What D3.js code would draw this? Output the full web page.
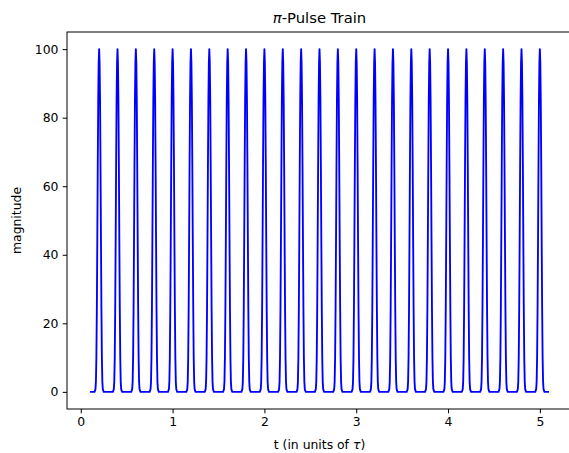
<!DOCTYPE html>
<html>
<head>
<meta charset="utf-8">
<script src="https://cdn.jsdelivr.net/npm/d3@7"></script>
<style>
  body { margin: 0; background: #fff; }
  svg { display: block; font-family: "DejaVu Sans", sans-serif; }
  .tick text { font-size: 12.4px; fill: #000; }
</style>
</head>
<body>
<script>
  // pulse train: one pulse every 0.2 tau, flat zero between them
  const tStart = 0.1;
  const tEnd = 5.1;
  const pulseCenters = [0.2, 0.4, 0.6, 0.8, 1.0, 1.2, 1.4, 1.6, 1.8, 2.0,
    2.2, 2.4, 2.6, 2.8, 3.0, 3.2, 3.4, 3.6, 3.8, 4.0,
    4.2, 4.4, 4.6, 4.8, 5.0];
  // shape of one pulse (offset from centre, magnitude)
  const pulseOffsets = [-0.05, -0.04, -0.035, -0.03, -0.025, -0.02, -0.015, -0.01, -0.005,
    0, 0.005, 0.01, 0.015, 0.02, 0.025, 0.03, 0.035, 0.04, 0.05];
  const pulseShape = [0, 0.8, 3, 10, 24, 44, 66, 85, 96,
    100, 96, 85, 66, 44, 24, 10, 3, 0.8, 0];
  const xTicks = [0, 1, 2, 3, 4, 5];
  const yTicks = [0, 20, 40, 60, 80, 100];

  const width = 569;
  const height = 453;
  const margin = { top: 32, right: -3, bottom: 44, left: 67 };

  const points = [[tStart, 0]];
  pulseCenters.forEach((c) => {
    pulseOffsets.forEach((o, i) => points.push([c + o, pulseShape[i]]));
  });
  points.push([tEnd, 0]);

  const svg = d3.select('body')
    .append('svg')
    .attr('width', width)
    .attr('height', height);

  const x = d3.scaleLinear()
    .domain([-0.15, 5.35])
    .range([margin.left, width - margin.right]);

  const y = d3.scaleLinear()
    .domain([-5, 105])
    .range([height - margin.bottom, margin.top]);

  const line = d3.line()
    .x((d) => x(d[0]))
    .y((d) => y(d[1]));

  svg.append('path')
    .datum(points)
    .attr('fill', 'none')
    .attr('stroke', '#0000ff')
    .attr('stroke-width', 1.85)
    .attr('stroke-linejoin', 'round')
    .attr('d', line);

  // axes frame
  svg.append('rect')
    .attr('x', margin.left)
    .attr('y', margin.top)
    .attr('width', width - margin.right - margin.left)
    .attr('height', height - margin.bottom - margin.top)
    .attr('fill', 'none')
    .attr('stroke', '#000')
    .attr('stroke-width', 1);

  const xAxis = svg.append('g')
    .attr('transform', `translate(0,${height - margin.bottom})`)
    .call(d3.axisBottom(x).tickValues(xTicks).tickFormat(d3.format('d'))
      .tickSize(4.3).tickPadding(4.3));

  const yAxis = svg.append('g')
    .attr('transform', `translate(${margin.left},0)`)
    .call(d3.axisLeft(y).tickValues(yTicks).tickFormat(d3.format('d'))
      .tickSize(4.3).tickPadding(4.3));

  [xAxis, yAxis].forEach((g) => {
    g.select('.domain').remove();
    g.selectAll('.tick line').attr('stroke', '#000').attr('stroke-width', 1);
    g.selectAll('.tick text').attr('font-family', 'DejaVu Sans');
  });

  // title
  const title = svg.append('text')
    .attr('x', (margin.left + width - margin.right) / 2)
    .attr('y', 23)
    .attr('text-anchor', 'middle')
    .attr('font-size', 14.8);
  title.append('tspan').attr('font-style', 'italic').text('π');
  title.append('tspan').text('-Pulse Train');

  // x label
  const xLabel = svg.append('text')
    .attr('x', (margin.left + width - margin.right) / 2)
    .attr('y', 449)
    .attr('text-anchor', 'middle')
    .attr('font-size', 12.4);
  xLabel.append('tspan').text('t (in units of ');
  xLabel.append('tspan').attr('font-style', 'italic').text('τ');
  xLabel.append('tspan').text(')');

  // y label
  svg.append('text')
    .attr('transform', `translate(21,${(margin.top + height - margin.bottom) / 2}) rotate(-90)`)
    .attr('text-anchor', 'middle')
    .attr('font-size', 12.4)
    .text('magnitude');
</script>
</body>
</html>
